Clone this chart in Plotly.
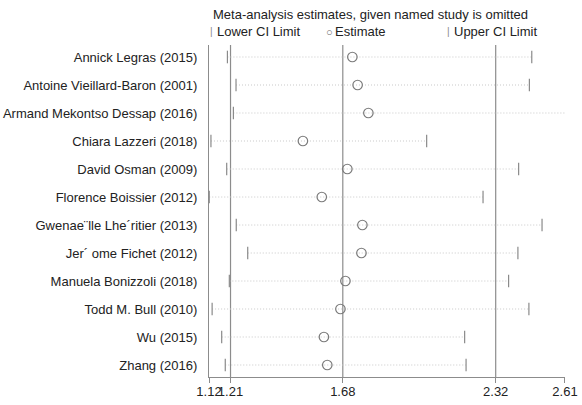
import plotly.graph_objects as go

studies = [
    "Annick Legras (2015)",
    "Antoine Vieillard-Baron (2001)",
    "Armand Mekontso Dessap (2016)",
    "Chiara Lazzeri (2018)",
    "David Osman (2009)",
    "Florence Boissier (2012)",
    "Gwenae¨lle Lhe´ritier (2013)",
    "Jer´ ome Fichet (2012)",
    "Manuela Bonizzoli (2018)",
    "Todd M. Bull (2010)",
    "Wu (2015)",
    "Zhang (2016)",
]
lower = [1.197, 1.233, 1.222, 1.128, 1.194, 1.121, 1.234, 1.282, 1.205, 1.133, 1.173, 1.188]
estimate = [1.720, 1.742, 1.787, 1.513, 1.699, 1.592, 1.762, 1.758, 1.691, 1.670, 1.601, 1.615]
upper = [2.471, 2.461, 2.613, 2.031, 2.416, 2.267, 2.514, 2.413, 2.374, 2.459, 2.190, 2.196]
ref_lines = [1.21, 1.68, 2.32]
tick_vals = [1.12, 1.21, 1.68, 2.32, 2.61]
tick_text = ["1.12", "1.21", "1.68", "2.32", "2.61"]

FONT = "Liberation Sans, Arial, sans-serif"
TXT = "#222222"
FS = 13

fig = go.Figure()

# dotted CI lines
lx, ly = [], []
for s, lo, up in zip(studies, lower, upper):
    lx += [lo, up, None]
    ly += [s, s, None]
fig.add_trace(go.Scatter(x=lx, y=ly, mode="lines",
                         line=dict(color="#c8c8c8", width=1, dash="1px,2px"),
                         hoverinfo="skip", showlegend=False))

# CI limit ticks
fig.add_trace(go.Scatter(x=lower, y=studies, mode="markers", cliponaxis=False,
                         marker=dict(symbol="line-ns", size=9,
                                     line=dict(color="#8a8a8a", width=1.2)),
                         showlegend=False))
fig.add_trace(go.Scatter(x=upper, y=studies, mode="markers", cliponaxis=False,
                         marker=dict(symbol="line-ns", size=9,
                                     line=dict(color="#8a8a8a", width=1.2)),
                         showlegend=False))
# estimates
fig.add_trace(go.Scatter(x=estimate, y=studies, mode="markers",
                         marker=dict(symbol="circle-open", size=9.5,
                                     color="#7a7a7a", line=dict(width=1.2)),
                         showlegend=False))

for v in ref_lines:
    fig.add_shape(type="line", xref="x", yref="paper", x0=v, x1=v, y0=0, y1=1,
                  line=dict(color="#8c8c8c", width=1.2), layer="below")

n = len(studies)
pad = 12 / 28
fig.update_layout(
    width=582, height=405,
    margin=dict(l=209, r=17, t=45, b=28, autoexpand=False),
    paper_bgcolor="white", plot_bgcolor="white",
    font=dict(family=FONT, size=FS, color=TXT),
    xaxis=dict(range=[1.1199, 2.6101], tickvals=tick_vals, ticktext=tick_text,
               tickangle=0, automargin=False, ticklabelstandoff=-3,
               showgrid=False, zeroline=False, showline=True,
               linecolor="#8c8c8c", linewidth=1.2,
               ticks="outside", ticklen=5, tickcolor="#8c8c8c",
               tickfont=dict(size=FS, color=TXT)),
    yaxis=dict(type="category", categoryorder="array", categoryarray=studies,
               range=[n - 1 + pad, -pad], showgrid=False, zeroline=False,
               automargin=False,
               showline=True, linecolor="#8c8c8c", linewidth=1.2,
               ticks="", ticklabelstandoff=8,
               tickfont=dict(size=FS, color=TXT)),
)

def px(p):
    return (p - 209) / 356

def ann(text, x, y, color=TXT, anchor="left", size=FS):
    fig.add_annotation(text=text, xref="paper", yref="paper", x=px(x), y=y,
                       xanchor=anchor, yanchor="middle", showarrow=False,
                       font=dict(family=FONT, size=size, color=color))

ann("Meta-analysis estimates, given named study is omitted", 211, 1 + 30 / 332)
ly_ = 1 + 13 / 332
ann("|", 211, ly_, color="#8a8a8a", anchor="center", size=10)
ann("Lower CI Limit", 215, ly_)
ann("○", 329, ly_, color="#6a6a6a", anchor="center", size=11)
ann("Estimate", 333, ly_)
ann("|", 448, ly_, color="#8a8a8a", anchor="center", size=10)
ann("Upper CI Limit", 452, ly_)

fig.write_html("out.html")
